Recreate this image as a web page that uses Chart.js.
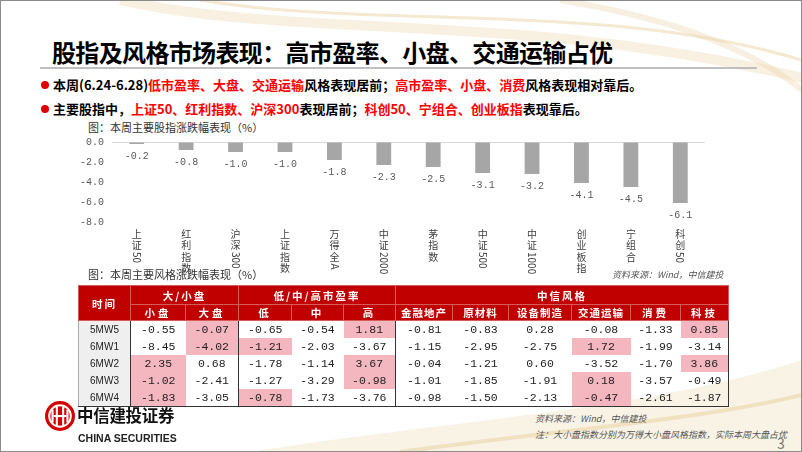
<!DOCTYPE html>
<html lang="zh">
<head>
<meta charset="UTF-8">
<title>股指及风格市场表现</title>
<script src="https://cdn.jsdelivr.net/npm/chart.js"></script>
<style>
  html, body { margin: 0; padding: 0; }
  body { width: 802px; height: 452px; position: relative; overflow: hidden; background: #fff;
         font-family: "Noto Sans CJK SC", sans-serif; color: #000; }
  .abs { position: absolute; }
  .frame { left: 0; top: 0; width: 800px; height: 450px; border: 1px solid #8a8a8a; }
  .title { left: 52px; top: 36px; font-size: 24px; font-weight: bold; line-height: 32px; letter-spacing: -0.65px; }
  .rule { left: 40px; top: 67px; width: 717px; height: 2px; background: #bfbfbf; }
  .bullet { left: 53px; font-size: 13px; font-weight: bold; line-height: 20px; white-space: nowrap; }
  .bullet::before { content: ""; position: absolute; left: -12px; top: 6px; width: 8px; height: 8px;
                    border-radius: 50%; background: #e00000; }
  .red { color: #ff0000; }
  .caption { font-size: 11px; color: #333; line-height: 14px; }
  .source { font-size: 9px; color: #555; font-style: italic; line-height: 12px; white-space: nowrap; }
  table { border-collapse: collapse; table-layout: fixed; }
  th { background: #c00000; color: #fff; font-weight: bold; font-size: 10.5px; letter-spacing: 2px;
       padding: 0; border: 1px solid #d65b5b; }
  td { padding: 0; height: 17px; text-align: center; font-family: "Liberation Mono", monospace;
       font-size: 11.5px; color: #222; }
  td.t { background: #efefef; font-family: "Liberation Sans Narrow", "Liberation Sans", sans-serif;
         font-size: 10px; border-left: 1px solid #aaa; border-right: 1px solid #333; }
  td.hi { background: #f4b6bf; }
  td.sep { border-right: 1px solid #333; }
  tr:last-child td { border-bottom: 1.5px solid #333; }
  td:last-child { border-right: 1.5px solid #333; }
</style>
</head>
<body>
<svg class="abs" style="left:0;top:0" width="802" height="452">
  <path d="M120,0 C300,40 520,10 802,78" fill="none" stroke="#efe0bd" stroke-width="10" opacity="0.45"/>
  <path d="M200,0 C380,30 600,0 802,60" fill="none" stroke="#e9d4a4" stroke-width="3" opacity="0.5"/>
  <path d="M560,0 C650,15 740,40 802,90" fill="none" stroke="#ead8ae" stroke-width="6" opacity="0.4"/>
  <path d="M250,452 C450,420 650,410 802,360 L802,452 Z" fill="#f6eedc" opacity="0.7"/>
  <path d="M400,452 C560,430 700,420 802,395" fill="none" stroke="#ead6a8" stroke-width="4" opacity="0.6"/>
</svg>
<div class="abs frame"></div>

<div class="abs title">股指及风格市场表现：高市盈率、小盘、交通运输占优</div>
<div class="abs rule"></div>
<div class="abs bullet" style="top:75px">本周(6.24-6.28)<span class="red">低市盈率、大盘、交通运输</span>风格表现居前；<span class="red">高市盈率、小盘、消费</span>风格表现相对靠后。</div>
<div class="abs bullet" style="top:99px">主要股指中，<span class="red">上证50、红利指数、沪深300</span>表现居前；<span class="red">科创50、宁组合、创业板指</span>表现靠后。</div>

<div class="abs caption" style="left:88px;top:120px">图：本周主要股指涨跌幅表现（%）</div>
<div class="abs" style="left:60px;top:128px;width:660px;height:150px">
  <canvas id="barChart" width="660" height="150"></canvas>
</div>

<div class="abs caption" style="left:88px;top:267px">图：本周主要风格涨跌幅表现（%）</div>
<div class="abs source" style="left:612px;top:269px">资料来源：Wind，中信建投</div>

<table class="abs" id="styleTable" style="left:78px;top:285px;width:650px">
  <colgroup>
    <col style="width:52px"><col style="width:55px"><col style="width:53px"><col style="width:53px">
    <col style="width:52px"><col style="width:52px"><col style="width:57px"><col style="width:56px">
    <col style="width:63px"><col style="width:59px"><col style="width:50px"><col style="width:48px">
  </colgroup>
  <thead></thead>
  <tbody></tbody>
</table>

<svg class="abs" style="left:44px;top:400px" width="32" height="32">
  <circle cx="16" cy="16" r="15" fill="#d40000"/>
  <circle cx="16" cy="16" r="10.8" fill="none" stroke="#fff" stroke-width="2"/>
  <rect x="7.5" y="9.5" width="2.1" height="13" fill="#fff"/>
  <rect x="11.8" y="6.5" width="2.1" height="19" fill="#fff"/>
  <rect x="18.1" y="6.5" width="2.1" height="19" fill="#fff"/>
  <rect x="22.4" y="9.5" width="2.1" height="13" fill="#fff"/>
  <rect x="9.5" y="15" width="13" height="2.1" fill="#fff"/>
</svg>
<div class="abs" style="left:77px;top:404px;font-size:16.5px;font-weight:bold;line-height:22px;letter-spacing:-0.3px;color:#111">中信建投证券</div>
<div class="abs" style="left:78px;top:432px;font-family:'Liberation Sans Narrow','Liberation Sans',sans-serif;font-size:10.5px;font-weight:bold;line-height:13px;color:#222">CHINA SECURITIES</div>
<div class="abs source" style="left:535px;top:413px">资料来源：Wind，中信建投</div>
<div class="abs source" style="left:535px;top:429px">注：大小盘指数分别为万得大小盘风格指数，实际本周大盘占优</div>
<div class="abs" style="left:777px;top:434px;font-size:14px;color:#777;line-height:18px">3</div>

<script>
  // 股指涨跌幅（%）
  const indexNames = ["上证50", "红利指数", "沪深300", "上证指数", "万得全A", "中证2000",
                      "茅指数", "中证500", "中证1000", "创业板指", "宁组合", "科创50"];
  const indexChange = [-0.2, -0.8, -1.0, -1.0, -1.8, -2.3, -2.5, -3.1, -3.2, -4.1, -4.5, -6.1];
  const yTicks = [0, -2, -4, -6, -8];

  // 风格涨跌幅表（%）
  const weeks = ["5MW5", "6MW1", "6MW2", "6MW3", "6MW4"];
  const smallCap = [-0.55, -8.45, 2.35, -1.02, -1.83];
  const largeCap = [-0.07, -4.02, 0.68, -2.41, -3.05];
  const lowPE = [-0.65, -1.21, -1.78, -1.27, -0.78];
  const midPE = [-0.54, -2.03, -1.14, -3.29, -1.73];
  const highPE = [1.81, -3.67, 3.67, -0.98, -3.76];
  const finance = [-0.81, -1.15, -0.04, -1.01, -0.98];
  const materials = [-0.83, -2.95, -1.21, -1.85, -1.50];
  const equipment = [0.28, -2.75, 0.60, -1.91, -2.13];
  const transport = [-0.08, 1.72, -3.52, 0.18, -0.47];
  const consumer = [-1.33, -1.99, -1.70, -3.57, -2.61];
  const tech = [0.85, -3.14, 3.86, -0.49, -1.87];

  const groups = [
    { name: "大/小盘", cols: ["小盘", "大盘"], data: [smallCap, largeCap] },
    { name: "低/中/高市盈率", cols: ["低", "中", "高"], data: [lowPE, midPE, highPE] },
    { name: "中信风格", cols: ["金融地产", "原材料", "设备制造", "交通运输", "消费", "科技"],
      data: [finance, materials, equipment, transport, consumer, tech] }
  ];

  // 表头
  const thead = document.querySelector("#styleTable thead");
  let h1 = '<tr style="height:19px"><th rowspan="2">时间</th>';
  let h2 = '<tr style="height:16px">';
  groups.forEach(g => {
    h1 += `<th colspan="${g.cols.length}">${g.name}</th>`;
    g.cols.forEach(c => { h2 += `<th style="letter-spacing:${c.length > 2 ? 1 : 3}px">${c}</th>`; });
  });
  thead.innerHTML = h1 + "</tr>" + h2 + "</tr>";

  // 每组每周最大值标粉
  const tbody = document.querySelector("#styleTable tbody");
  weeks.forEach((w, r) => {
    let row = `<tr><td class="t">${w}</td>`;
    groups.forEach(g => {
      const vals = g.data.map(s => s[r]);
      const max = Math.max(...vals);
      vals.forEach((v, i) => {
        const cls = [];
        if (v === max) cls.push("hi");
        if (i === vals.length - 1) cls.push("sep");
        row += `<td class="${cls.join(" ")}">${v.toFixed(2)}</td>`;
      });
    });
    tbody.innerHTML += row + "</tr>";
  });

  // 柱下方数值
  const valueLabels = {
    id: "valueLabels",
    afterDatasetsDraw(chart) {
      const ctx = chart.ctx;
      ctx.save();
      ctx.font = '10px "Liberation Mono", monospace';
      ctx.fillStyle = "#595959";
      ctx.textAlign = "center";
      ctx.textBaseline = "middle";
      chart.getDatasetMeta(0).data.forEach((bar, i) => {
        ctx.fillText(indexChange[i].toFixed(1), bar.x, bar.y + 12);
      });
      ctx.restore();
    }
  };

  // 竖排分类标签：汉字直立，数字字母旋转
  const verticalLabels = {
    id: "verticalLabels",
    afterDraw(chart) {
      const { ctx, chartArea, scales } = chart;
      ctx.save();
      ctx.font = '10px "Noto Sans CJK SC"';
      ctx.fillStyle = "#404040";
      ctx.textAlign = "center";
      ctx.textBaseline = "middle";
      indexNames.forEach((name, i) => {
        const cx = scales.x.getPixelForValue(i);
        let top = chartArea.bottom + 6;
        name.match(/[\x00-\x7F]+|[^\x00-\x7F]/g).forEach(run => {
          if (/^[\x00-\x7F]+$/.test(run)) {
            const w = ctx.measureText(run).width;
            ctx.save();
            ctx.translate(cx, top + w / 2 + 1);
            ctx.rotate(Math.PI / 2);
            ctx.fillText(run, 0, 0);
            ctx.restore();
            top += w + 2;
          } else {
            ctx.fillText(run, cx, top + 5.75);
            top += 11.5;
          }
        });
      });
      ctx.restore();
    }
  };

  new Chart(document.getElementById("barChart").getContext("2d"), {
    type: "bar",
    data: {
      labels: indexNames,
      datasets: [{
        data: indexChange,
        backgroundColor: "#a6a6a6",
        barPercentage: 0.3,
        categoryPercentage: 1
      }]
    },
    options: {
      responsive: false,
      animation: false,
      layout: { padding: { top: 13, left: 12, right: 15, bottom: 8 } },
      plugins: { legend: { display: false }, tooltip: { enabled: false } },
      scales: {
        x: {
          ticks: { display: false },
          grid: { display: false },
          border: { display: false },
          afterFit(scale) { scale.height = 48; }
        },
        y: {
          min: -8, max: 0,
          afterBuildTicks(scale) { scale.ticks = yTicks.map(v => ({ value: v })); },
          ticks: {
            font: { family: "Liberation Mono", size: 10 },
            color: "#595959",
            padding: 8,
            callback: v => v.toFixed(1)
          },
          grid: {
            drawTicks: false,
            color: c => (c.tick && c.tick.value === 0 ? "#d9d9d9" : "transparent")
          },
          border: { display: false },
          afterFit(scale) { scale.width = 40; }
        }
      }
    },
    plugins: [valueLabels, verticalLabels]
  });
</script>
</body>
</html>
